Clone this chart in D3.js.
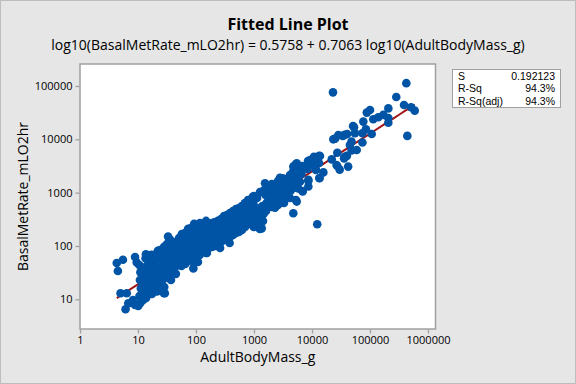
<!DOCTYPE html>
<html>
<head>
<meta charset="utf-8">
<script src="https://cdn.jsdelivr.net/npm/d3@7"></script>
<style>
  html, body { margin: 0; padding: 0; background: #e6e6e6; }
  svg { display: block; font-family: "Open Sans", "Noto Sans", sans-serif; }
</style>
</head>
<body>
<div id="chart"></div>
<script>
// values (log-log scatter)
const bodyMass = [
  10.5, 11, 10.8, 11.2, 10.6, 11,
  13.5, 14, 13.7, 13.4, 14, 13.8,
  17, 17.8, 17.4, 17, 17.6, 17.4,
  22, 21.5, 22.5, 22, 21.6, 22.4,
  28, 27.5, 28.5, 28, 27.6, 28.4, 28,
  36, 35, 36.5, 36, 35.5, 37,
  45, 46, 44, 45.5, 45,
  57, 56, 58, 57, 56,
  73, 72, 74, 73, 71,
  92, 90, 94, 92, 91, 93,
  117, 115, 119, 117, 116,
  149, 146, 152, 149, 150,
  189, 186, 192, 189,
  239, 235, 243, 239,
  304, 300, 310, 304,
  385, 378, 392, 385, 380,
  489, 480, 498, 489,
  620, 610, 632, 620,
  787, 770, 800, 787,
  1000, 980, 1020, 1000, 990,
  1270, 1250, 1290, 1270, 1260,
  1610, 1580, 1640, 1610,
  2040, 2000, 2080, 2040,
  2590, 2540, 2640, 2590,
  3290, 3220, 3350, 3290,
  4170, 4100, 4250, 4170,
  5290, 5200, 5380, 5290,
  6720, 6600, 6850,
  8520, 8400, 8650,
  10800, 10600,
  13700, 13500,
  12.2, 12.4, 12, 12.2, 12.3,
  15.5, 15.2, 15.8, 15.5, 15.4,
  19.6, 19.2, 20, 19.6, 19.8,
  25, 24.5, 25.5, 25, 24.8,
  31.6, 31, 32, 31.6, 31.2,
  40, 39, 41, 40,
  51, 50, 52, 51,
  64.5, 63, 66, 64.5, 65,
  82, 80, 84, 82, 81,
  104, 102, 106, 104, 103,
  132, 130, 134, 132,
  167, 164, 170, 167,
  212, 208, 216, 212,
  270, 265, 275, 270,
  342, 336, 348, 342,
  435, 428, 442, 435,
  550, 540, 560, 550,
  700, 690, 712, 700,
  890, 875, 905, 890,
  1130, 1110, 1150,
  1430, 1400, 1460, 1430,
  1810, 1780, 1840,
  2300, 2260, 2340,
  2920, 2870, 2970,
  3700, 3640, 3760,
  4700, 4620, 4780,
  4.3, 5.5, 4.5, 5.0, 6.4, 6.1, 6.8, 8.9, 10.1, 8.2, 9.5, 8.9,
  13.7, 17, 24, 33, 43, 69, 103, 93, 200, 260, 360, 610,
  260, 154, 108, 56, 90, 29, 27, 21,
  2700, 950, 700, 1890, 2300, 1450, 1100, 1360, 980, 4760, 5450, 5800, 4170, 3400, 3120, 4170, 5100, 6200, 6900, 8650, 8650,
  4760, 5100, 5450, 6640, 8100, 9250, 11700, 13400, 15700, 13400, 12300, 12800, 13200, 4400, 2800, 2000, 1550,
  23000, 423000, 284000, 386000, 510000, 590000, 440000, 207000, 207000, 207000, 170000, 139000, 114000, 100000,
  88000, 76700, 85000, 74000, 107000, 53000, 55000, 40500, 34000, 28500, 23300, 48000, 74000, 48000,
  59000, 40000, 35700, 27300, 27300, 42000, 21900, 30000, 26500, 36600, 51000, 25000, 36600, 45000
];
const metRate = [
  44, 32, 23, 16, 11.5, 8.5,
  59, 42, 30, 21, 15, 10.6,
  65, 46, 32, 23, 16, 12.6,
  81, 57, 40, 28.6, 20, 14.3,
  96, 68, 48, 34, 24, 17, 13,
  130, 92, 65, 46, 32, 23,
  119, 84, 59, 42, 30,
  168, 119, 84, 59, 42,
  209, 147, 104, 74, 52,
  248, 175, 124, 88, 62, 48,
  270, 191, 135, 96, 68,
  295, 209, 147, 104, 74,
  270, 191, 135, 96,
  295, 209, 147, 104,
  366, 259, 183, 130,
  416, 295, 209, 147, 114,
  494, 350, 248, 175,
  563, 398, 282, 200,
  730, 516, 366, 259,
  868, 614, 434, 307, 227,
  1030, 516, 366, 259, 209,
  1280, 906, 641, 453,
  1456, 1030, 730, 539,
  1658, 1173, 831, 588,
  1808, 1280, 906, 641,
  2148, 1520, 1076, 796,
  2906, 2057, 1456, 730,
  3167, 2242, 1076,
  3933, 2783, 1658,
  4680, 3306,
  4880, 1887,
  37, 27.4, 19.4, 13.7, 9.7,
  50, 35, 26, 17.8, 12.6,
  68, 48, 34, 24, 17,
  81, 57, 40, 28.6, 20.2,
  109, 77, 55, 38.6, 27.4,
  104, 70, 50, 35,
  141, 100, 70, 50,
  175, 130, 92, 65, 46,
  218, 156, 109, 77, 55,
  227, 161, 114, 81, 57,
  248, 175, 124, 88,
  259, 183, 130, 92,
  282, 200, 141, 100,
  321, 237, 168, 119,
  381, 270, 191, 135,
  453, 321, 227, 161,
  516, 366, 259, 183,
  641, 453, 321, 227,
  730, 516, 366, 259,
  796, 434, 307,
  1076, 563, 398, 295,
  1120, 796, 563,
  1390, 1000, 700,
  1520, 1076, 763,
  1658, 1173, 831,
  2450, 1730, 1230,
  48, 55, 34, 13, 13, 6.5, 8.4, 7.8, 7.5, 9.7, 49, 62,
  70, 68, 84, 150, 104, 140, 215, 260, 230, 285, 355, 545,
  92, 74, 50, 55, 38, 13, 14, 14,
  1300, 840, 630, 630, 520, 410, 410, 214, 245, 410, 680, 1200, 1300, 1480, 1860, 1950, 1860, 1600, 1050, 1300, 1740,
  3100, 3300, 3550, 2670, 2950, 4100, 2670, 4900, 2400, 1860, 255, 4700, 3600, 2150, 1890, 1300, 1500,
  76000, 113000, 62000, 44000, 40000, 34500, 11600, 38000, 25000, 20500, 28700, 26000, 23800, 35500,
  31700, 21500, 15500, 13000, 12600, 16900, 13000, 12600, 11600, 12000, 10000, 9050, 8700, 6200,
  6300, 4900, 4400, 5600, 3150, 3080, 4200, 2700, 3300, 4700, 17800, 10300, 12100, 7800
];
const xTicks = [1, 10, 100, 1000, 10000, 100000, 1000000];
const yTicks = [10, 100, 1000, 10000, 100000];
const fitIntercept = 0.5758;
const fitSlope = 0.7063;
const statLabels = ['S', 'R-Sq', 'R-Sq(adj)'];
const statValues = ['0.192123', '94.3%', '94.3%'];

const W = 576, H = 384;
const frame = {left: 80, right: 435.5, top: 64, bottom: 329};

const svg = d3.select('#chart').append('svg')
  .attr('width', W)
  .attr('height', H);

svg.append('rect')
  .attr('x', 0.5).attr('y', 0.5)
  .attr('width', W - 1).attr('height', H - 1)
  .attr('fill', '#e6e6e6')
  .attr('stroke', '#bdbdbd');

const x = d3.scaleLog().domain([1, 1e6]).range([80, 428]);
const y = d3.scaleLog().domain([10, 1e5]).range([299.3, 86]);

// plot area
svg.append('rect')
  .attr('x', frame.left).attr('y', frame.top)
  .attr('width', frame.right - frame.left)
  .attr('height', frame.bottom - frame.top)
  .attr('fill', '#fff')
  .attr('stroke', '#a0a0a0')
  .attr('stroke-width', 1.5);

const xAxis = svg.append('g')
  .attr('transform', `translate(0,${frame.bottom + 0.5})`)
  .call(d3.axisBottom(x).tickValues(xTicks).tickFormat(d3.format('d')).tickSize(4).tickPadding(3));
const yAxis = svg.append('g')
  .attr('transform', `translate(${frame.left - 0.5},0)`)
  .call(d3.axisLeft(y).tickValues(yTicks).tickFormat(d3.format('d')).tickSize(4).tickPadding(3));

[xAxis, yAxis].forEach(g => {
  g.select('.domain').remove();
  g.selectAll('line').attr('stroke', '#a0a0a0').attr('stroke-width', 1.3);
  g.selectAll('text')
    .attr('fill', '#000')
    .style('font-size', '11px')
    .style('font-family', '"Open Sans", sans-serif');
});

// fitted regression line, drawn under the points
const massRange = d3.extent(bodyMass);
const fitPts = d3.range(0, 41).map(i => {
  const lx = Math.log10(massRange[0]) + i / 40 * (Math.log10(massRange[1]) - Math.log10(massRange[0]));
  return [Math.pow(10, lx), Math.pow(10, fitIntercept + fitSlope * lx)];
});
svg.append('path')
  .datum(fitPts)
  .attr('fill', 'none')
  .attr('stroke', '#a01414')
  .attr('stroke-width', 2)
  .attr('d', d3.line().x(d => x(d[0])).y(d => y(d[1])));

svg.append('g')
  .selectAll('circle')
  .data(d3.zip(bodyMass, metRate))
  .enter().append('circle')
  .attr('cx', d => x(d[0]))
  .attr('cy', d => y(d[1]))
  .attr('r', 4.3)
  .attr('fill', '#0054a6');

// titles
svg.append('text')
  .attr('x', 288).attr('y', 30)
  .attr('text-anchor', 'middle')
  .style('font-size', '16px')
  .style('font-weight', 'bold')
  .text('Fitted Line Plot');
svg.append('text')
  .attr('x', 288).attr('y', 50)
  .attr('text-anchor', 'middle')
  .style('font-size', '14px')
  .text('log10(BasalMetRate_mLO2hr) = 0.5758 + 0.7063 log10(AdultBodyMass_g)');

svg.append('text')
  .attr('x', (frame.left + frame.right) / 2).attr('y', 362)
  .attr('text-anchor', 'middle')
  .style('font-size', '14px')
  .text('AdultBodyMass_g');
svg.append('text')
  .attr('transform', `translate(28,${(frame.top + frame.bottom) / 2}) rotate(-90)`)
  .attr('text-anchor', 'middle')
  .style('font-size', '14px')
  .text('BasalMetRate_mLO2hr');

// summary box
const box = svg.append('g')
  .style('font-family', '"Liberation Sans", Arial, sans-serif')
  .style('font-size', '10.5px');
box.append('rect')
  .attr('x', 452.5).attr('y', 69.5)
  .attr('width', 108).attr('height', 38)
  .attr('fill', '#fff')
  .attr('stroke', '#a0a0a0');
statLabels.forEach((lab, i) => {
  box.append('text')
    .attr('x', 458).attr('y', 79.5 + i * 12.5)
    .text(lab);
  box.append('text')
    .attr('x', 555).attr('y', 79.5 + i * 12.5)
    .attr('text-anchor', 'end')
    .text(statValues[i]);
});
</script>
</body>
</html>
